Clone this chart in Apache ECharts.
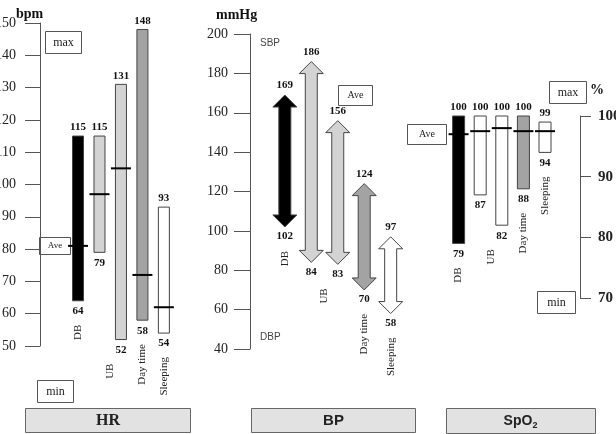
<!DOCTYPE html>
<html><head><meta charset="utf-8">
<script src="https://cdn.jsdelivr.net/npm/echarts@6/dist/echarts.min.js"></script>
<style>html,body{margin:0;padding:0;background:#fff}#c{width:616px;height:434px}</style>
</head><body><div id="c"></div>
<script>
// ---- data ----
const groups = ['DB', 'UB', 'UB', 'Day time', 'Sleeping'];
const hrMax = [115, 115, 131, 148, 93];
const hrMin = [64, 79, 52, 58, 54];
const hrAve = [81, 97, 105, 72, 62];
const bpSys = [169, 186, 156, 124, 97];
const bpDia = [102, 84, 83, 70, 58];
const spMax = [100, 100, 100, 100, 99];
const spMin = [79, 87, 82, 88, 94];
const spAve = [97, 97.5, 98, 97.5, 97.5];
const hrTicks = [50, 60, 70, 80, 90, 100, 110, 120, 130, 140, 150];
const bpTicks = [40, 60, 80, 100, 120, 140, 160, 180, 200];
const spTicks = [70, 80, 90, 100];

// ---- style ----
const SERIF = '"Liberation Serif", "Times New Roman", serif';
const SANS = '"Liberation Sans", Arial, sans-serif';
const STROKE = '#444';
const hrFill = ['#000', '#d3d3d3', '#d3d3d3', '#a3a3a3', '#fff'];
const bpFill = ['#000', '#d3d3d3', '#d3d3d3', '#a3a3a3', '#fff'];
const spFill = ['#000', '#fff', '#fff', '#a3a3a3', '#fff'];

function valText(x, y, v, va) {
  return {type: 'text', x: x, y: y, style: {text: String(v), font: 'bold 11px ' + SERIF, fill: '#111', align: 'center', verticalAlign: va}};
}
function groupLabel(api, idx, lows, yOf) {
  if (idx > 0 && groups[idx] === groups[idx - 1]) return null;
  let x = api.coord([idx, lows[idx]])[0];
  let yb = yOf(idx);
  if (idx + 1 < groups.length && groups[idx + 1] === groups[idx]) {
    x = (x + api.coord([idx + 1, lows[idx + 1]])[0]) / 2;
    yb = Math.max(yb, yOf(idx + 1));
  }
  return {type: 'text', x: x, y: yb + 24, rotation: Math.PI / 2,
    style: {text: groups[idx], font: '11px ' + SERIF, fill: '#222', align: 'right', verticalAlign: 'middle'}};
}
function barRender(fills, highs, lows, aves, barW, aveW) {
  return function (params, api) {
    const i = params.dataIndex;
    const pt = api.coord([i, highs[i]]), pb = api.coord([i, lows[i]]);
    const x = pt[0];
    const ch = [{type: 'rect', shape: {x: x - barW / 2, y: pt[1], width: barW, height: pb[1] - pt[1]},
      style: {fill: fills[i], stroke: STROKE, lineWidth: 1}}];
    const pa = api.coord([i, aves[i]]);
    ch.push({type: 'line', shape: {x1: x - aveW / 2, y1: pa[1], x2: x + aveW / 2, y2: pa[1]}, style: {stroke: '#000', lineWidth: 2}});
    ch.push(valText(x, pt[1] - 3, highs[i], 'bottom'));
    ch.push(valText(x, pb[1] + 5, lows[i], 'top'));
    const gl = groupLabel(api, i, lows, k => api.coord([k, lows[k]])[1]);
    if (gl) ch.push(gl);
    return {type: 'group', children: ch};
  };
}
function arrowRender(fills, highs, lows) {
  return function (params, api) {
    const i = params.dataIndex;
    const pt = api.coord([i, highs[i]]), pb = api.coord([i, lows[i]]);
    const x = pt[0], yt = pt[1], yb = pb[1];
    const hw = 12, sw = 6, hl = 12;
    const pts = [[x, yt], [x + hw, yt + hl], [x + sw, yt + hl], [x + sw, yb - hl], [x + hw, yb - hl], [x, yb],
      [x - hw, yb - hl], [x - sw, yb - hl], [x - sw, yt + hl], [x - hw, yt + hl]];
    const ch = [{type: 'polygon', shape: {points: pts}, style: {fill: fills[i], stroke: STROKE, lineWidth: 1}}];
    ch.push(valText(x, yt - 4, highs[i], 'bottom'));
    ch.push(valText(x, yb + 4, lows[i], 'top'));
    const gl = groupLabel(api, i, lows, k => api.coord([k, lows[k]])[1]);
    if (gl) ch.push(gl);
    return {type: 'group', children: ch};
  };
}
function yAx(gi, ticks, pos, offset, tickLen, margin, size, weight) {
  return {
    type: 'value', gridIndex: gi, position: pos, offset: offset,
    min: ticks[0], max: ticks[ticks.length - 1], interval: ticks[1] - ticks[0],
    splitLine: {show: false},
    axisLine: {show: true, onZero: false, lineStyle: {color: '#555', width: 1}},
    axisTick: {show: true, length: tickLen, lineStyle: {color: '#555', width: 1}},
    axisLabel: {margin: margin, color: '#222', fontSize: size, fontWeight: weight, fontFamily: SERIF}
  };
}
function xAx(gi) { return {type: 'value', gridIndex: gi, min: -0.5, max: groups.length - 0.5, show: false}; }
function box(x, y, w, h, text, font, extra) {
  return {type: 'group', left: x, top: y, children: [
    {type: 'rect', shape: {x: 0, y: 0, width: w, height: h}, style: Object.assign({fill: '#fff', stroke: '#555', lineWidth: 1}, extra || {})},
    {type: 'text', x: w / 2, y: h / 2, style: {text: text, font: font, fill: '#222', align: 'center', verticalAlign: 'middle'}}
  ]};
}
function txt(x, y, text, font, fill) {
  return {type: 'text', x: x, y: y, style: {text: text, font: font, fill: fill || '#111', align: 'left', verticalAlign: 'middle'}};
}
const idxData = groups.map((g, i) => [i]);

const chart = echarts.init(document.getElementById('c'), null, {renderer: 'canvas'});
chart.setOption({
  animation: false,
  grid: [
    {left: 67.3, top: 23, width: 107.3, height: 323, outerBoundsMode: 'none', containLabel: false},
    {left: 271.6, top: 34, width: 132.3, height: 315, outerBoundsMode: 'none', containLabel: false},
    {left: 447.8, top: 116, width: 108, height: 182, outerBoundsMode: 'none', containLabel: false}
  ],
  xAxis: [xAx(0), xAx(1), xAx(2)],
  yAxis: [
    yAx(0, hrTicks, 'left', 27.3, 15, 24, 14, 'normal'),
    yAx(1, bpTicks, 'left', 21.6, 16, 22, 14, 'normal'),
    yAx(2, spTicks, 'right', 24.2, 11, 18, 15, 'bold')
  ],
  series: [
    {type: 'custom', xAxisIndex: 0, yAxisIndex: 0, data: idxData, renderItem: barRender(hrFill, hrMax, hrMin, hrAve, 11, 20)},
    {type: 'custom', xAxisIndex: 1, yAxisIndex: 1, data: idxData, renderItem: arrowRender(bpFill, bpSys, bpDia)},
    {type: 'custom', xAxisIndex: 2, yAxisIndex: 2, data: idxData, renderItem: barRender(spFill, spMax, spMin, spAve, 12, 20)}
  ],
  graphic: [
    txt(16, 14, 'bpm', 'bold 14px ' + SERIF),
    txt(216, 15, 'mmHg', 'bold 14px ' + SERIF),
    txt(590, 90, '%', 'bold 14px ' + SERIF),
    txt(260, 43, 'SBP', '10px ' + SANS, '#444'),
    txt(260, 337, 'DBP', '10px ' + SANS, '#444'),
    box(45, 31, 36, 22, 'max', '12px ' + SERIF),
    box(39, 237, 31, 17, 'Ave', '9px ' + SERIF),
    box(37, 380, 36, 22, 'min', '12px ' + SERIF),
    box(338, 85, 34, 20, 'Ave', '10px ' + SERIF),
    box(407, 124, 39, 20, 'Ave', '10px ' + SERIF),
    box(549, 81, 37, 22, 'max', '12px ' + SERIF),
    box(537, 291, 38, 22, 'min', '12px ' + SERIF),
    box(25, 408, 165, 24, 'HR', 'bold 16px ' + SERIF, {fill: '#e2e2e2', stroke: '#666'}),
    box(251, 408, 164, 24, 'BP', 'bold 15px ' + SANS, {fill: '#e2e2e2', stroke: '#666'}),
    {type: 'group', left: 446, top: 408, children: [
      {type: 'rect', shape: {x: 0, y: 0, width: 149, height: 25}, style: {fill: '#e2e2e2', stroke: '#666', lineWidth: 1}},
      {type: 'text', x: 74, y: 13, style: {text: 'SpO{s|2}', font: 'bold 14px ' + SANS, fill: '#222', align: 'center', verticalAlign: 'middle',
        rich: {s: {font: 'bold 9px ' + SANS, fill: '#222', padding: [8, 0, 0, 0]}}}}
    ]}
  ]
});
</script>
</body></html>
